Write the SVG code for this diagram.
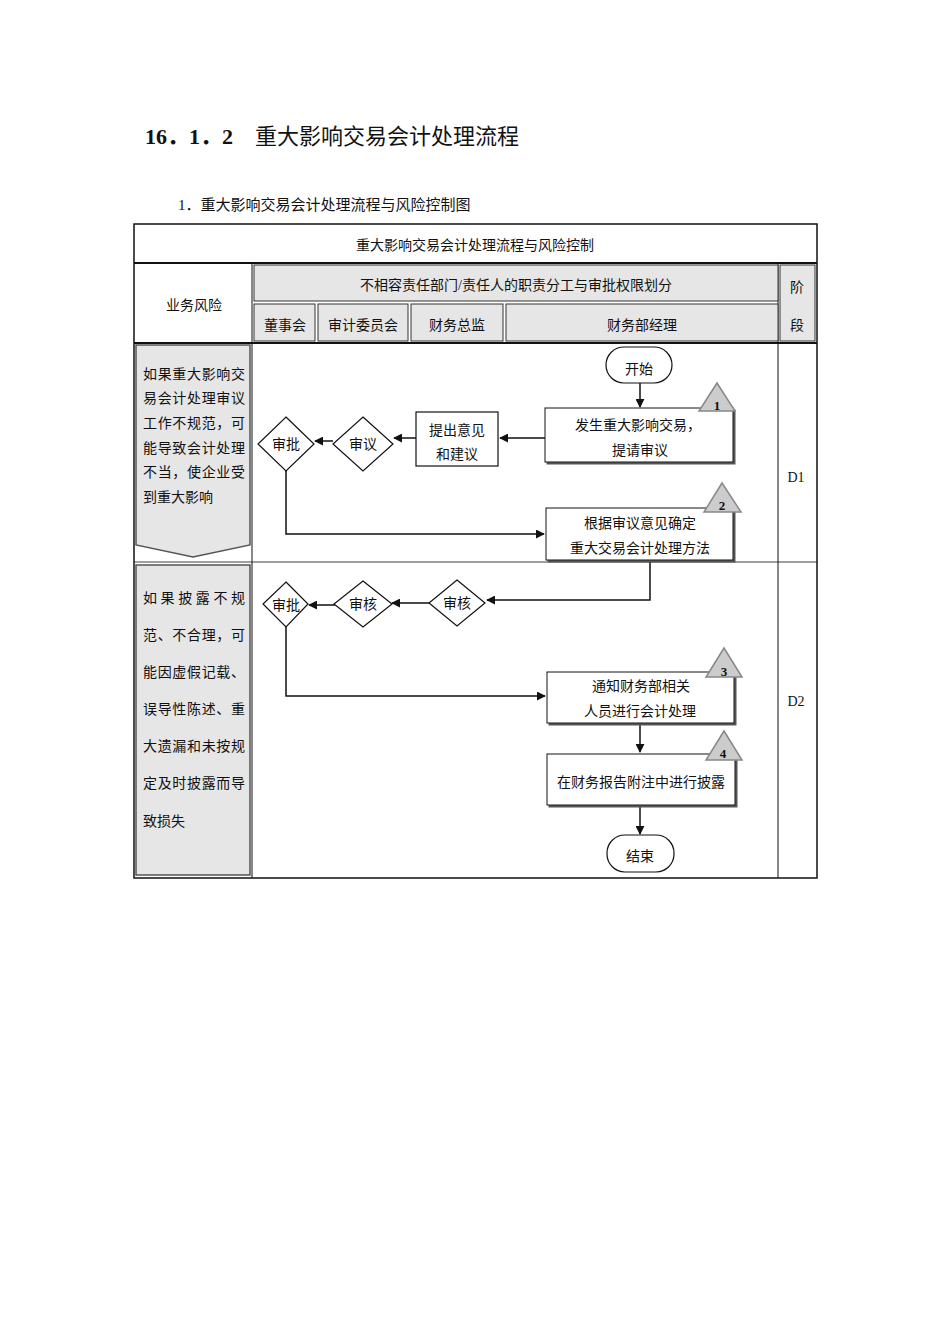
<svg xmlns="http://www.w3.org/2000/svg" width="950" height="1344" viewBox="0 0 950 1344">
<style>
text{font-family:"Liberation Serif","Noto Sans CJK SC",serif;font-size:14px;fill:#111}
.c{text-anchor:middle}
.gray{fill:#e6e6e6;stroke:#333;stroke-width:1}
.box{fill:#fff;stroke:#111;stroke-width:1.2}
.sh{fill:#fff;stroke:#111;stroke-width:1;filter:url(#sd)}
.ln{fill:none;stroke:#111;stroke-width:1.5}
.tri{fill:#ccc;stroke:#888;stroke-width:1.5}
.n{font-weight:bold;font-size:13px}
</style>
<defs>
<marker id="a" viewBox="0 0 10 10" refX="9" refY="5" markerWidth="6" markerHeight="6" orient="auto"><path d="M0,0L10,5L0,10z" fill="#111"/></marker>
<filter id="sd" x="-5%" y="-5%" width="115%" height="120%"><feOffset dx="1.5" dy="1.5" in="SourceAlpha" result="o"/><feFlood flood-color="#555"/><feComposite in2="o" operator="in"/><feMerge><feMergeNode/><feMergeNode in="SourceGraphic"/></feMerge></filter>
</defs>
<rect width="950" height="1344" fill="#fff"/>
<text x="145" y="144" style="font-size:22px"><tspan font-weight="bold">16．1．2</tspan>　重大影响交易会计处理流程</text>
<text x="178" y="210" style="font-size:15px">1．重大影响交易会计处理流程与风险控制图</text>
<g id="table">
<rect x="134" y="224" width="683" height="654" fill="none" stroke="#111" stroke-width="1.5"/>
<line x1="134" y1="263" x2="817" y2="263" stroke="#111" stroke-width="2"/>
<line x1="134" y1="343" x2="817" y2="343" stroke="#111" stroke-width="2"/>
<line x1="252" y1="263" x2="252" y2="878" stroke="#111"/>
<line x1="778" y1="263" x2="778" y2="878" stroke="#111"/>
<line x1="252" y1="562" x2="817" y2="562" stroke="#111" stroke-width="0.8"/>
<line x1="134" y1="562" x2="252" y2="562" stroke="#111" stroke-width="0.8"/>
<text class="c" x="475" y="250">重大影响交易会计处理流程与风险控制</text>
<text class="c" x="194" y="310">业务风险</text>
<rect class="gray" x="254" y="265" width="524" height="36"/>
<text class="c" x="516" y="290">不相容责任部门/责任人的职责分工与审批权限划分</text>
<rect class="gray" x="254" y="304" width="61" height="37"/>
<rect class="gray" x="318" y="304" width="90" height="37"/>
<rect class="gray" x="411" y="304" width="92" height="37"/>
<rect class="gray" x="506" y="304" width="272" height="37"/>
<rect class="gray" x="780" y="265" width="35" height="76"/>
<text class="c" x="285" y="330">董事会</text>
<text class="c" x="363" y="330">审计委员会</text>
<text class="c" x="457" y="330">财务总监</text>
<text class="c" x="642" y="330">财务部经理</text>
<text class="c" x="797" y="292">阶</text>
<text class="c" x="797" y="330">段</text>
<text class="c" x="796" y="482">D1</text>
<text class="c" x="796" y="706">D2</text>
</g>
<g id="risk1">
<path d="M136,345H250V545L193,557L136,545Z" fill="#e6e6e6" stroke="#555" stroke-width="1.5"/>
<text x="143" y="379" textLength="102">如果重大影响交</text>
<text x="143" y="403" textLength="102">易会计处理审议</text>
<text x="143" y="428" textLength="102">工作不规范，可</text>
<text x="143" y="453" textLength="102">能导致会计处理</text>
<text x="143" y="477" textLength="102">不当，使企业受</text>
<text x="143" y="502">到重大影响</text>
</g>
<g id="risk2">
<rect x="136" y="565" width="114" height="310" fill="#e6e6e6" stroke="#555" stroke-width="1.5"/>
<text x="143" y="603" textLength="102">如果披露不规</text>
<text x="143" y="640" textLength="102">范、不合理，可</text>
<text x="143" y="677" textLength="102">能因虚假记载、</text>
<text x="143" y="714" textLength="102">误导性陈述、重</text>
<text x="143" y="751" textLength="102">大遗漏和未按规</text>
<text x="143" y="788" textLength="102">定及时披露而导</text>
<text x="143" y="826">致损失</text>
</g>
<g id="connectors">
<line class="ln" x1="640" y1="383" x2="640" y2="407" marker-end="url(#a)"/>
<line class="ln" x1="545" y1="438" x2="500" y2="438" marker-end="url(#a)"/>
<line class="ln" x1="416" y1="438" x2="394" y2="438" marker-end="url(#a)"/>
<line class="ln" x1="333" y1="441" x2="315" y2="441" marker-end="url(#a)"/>
<path class="ln" d="M286,471V534H544" marker-end="url(#a)"/>
<path class="ln" d="M650,561V600H487" marker-end="url(#a)"/>
<line class="ln" x1="429" y1="603" x2="392" y2="603" marker-end="url(#a)"/>
<line class="ln" x1="335" y1="605" x2="309" y2="605" marker-end="url(#a)"/>
<path class="ln" d="M286,627V696H545" marker-end="url(#a)"/>
<line class="ln" x1="640" y1="724" x2="640" y2="752" marker-end="url(#a)"/>
<line class="ln" x1="640" y1="806" x2="640" y2="834" marker-end="url(#a)"/>
</g>
<g id="start"><rect class="box" x="606" y="347" width="66" height="36" rx="18"/><text class="c" x="639" y="374">开始</text></g>
<g id="n1"><rect class="sh" x="545" y="408" width="188" height="54"/><text class="c" x="638" y="430">发生重大影响交易，</text><text class="c" x="640" y="455">提请审议</text>
<path class="tri" d="M717,383L735,411H699Z"/><text class="c n" x="717" y="410">1</text></g>
<g id="n_advice"><rect class="box" x="416" y="412" width="82" height="54"/><text class="c" x="457" y="435">提出意见</text><text class="c" x="457" y="459">和建议</text></g>
<g id="d_review1"><path class="box" d="M363,417L393,444L363,471L333,444Z"/><text class="c" x="363" y="449">审议</text></g>
<g id="d_approve1"><path class="box" d="M286,417L314,444L286,471L258,444Z"/><text class="c" x="286" y="449">审批</text></g>
<g id="n2"><rect class="sh" x="546" y="508" width="187" height="52"/><text class="c" x="640" y="528">根据审议意见确定</text><text class="c" x="640" y="553">重大交易会计处理方法</text>
<path class="tri" d="M722,483L741,512H704Z"/><text class="c n" x="722" y="510">2</text></g>
<g id="d_check2"><path class="box" d="M457,580L485,603L457,626L429,603Z"/><text class="c" x="457" y="608">审核</text></g>
<g id="d_check1"><path class="box" d="M363,581L392,604L363,627L334,604Z"/><text class="c" x="363" y="609">审核</text></g>
<g id="d_approve2"><path class="box" d="M286,582L308,604L286,627L263,604Z"/><text class="c" x="286" y="610">审批</text></g>
<g id="n3"><rect class="sh" x="547" y="672" width="187" height="51"/><text class="c" x="641" y="691">通知财务部相关</text><text class="c" x="640" y="716">人员进行会计处理</text>
<path class="tri" d="M724,648L742,677H706Z"/><text class="c n" x="724" y="676">3</text></g>
<g id="n4"><rect class="sh" x="547" y="754" width="188" height="51"/><text class="c" x="641" y="787">在财务报告附注中进行披露</text>
<path class="tri" d="M724,731L742,760H706Z"/><text class="c n" x="723" y="758">4</text></g>
<g id="end"><rect class="box" x="607" y="835" width="67" height="37" rx="18"/><text class="c" x="640" y="861">结束</text></g>
</svg>
